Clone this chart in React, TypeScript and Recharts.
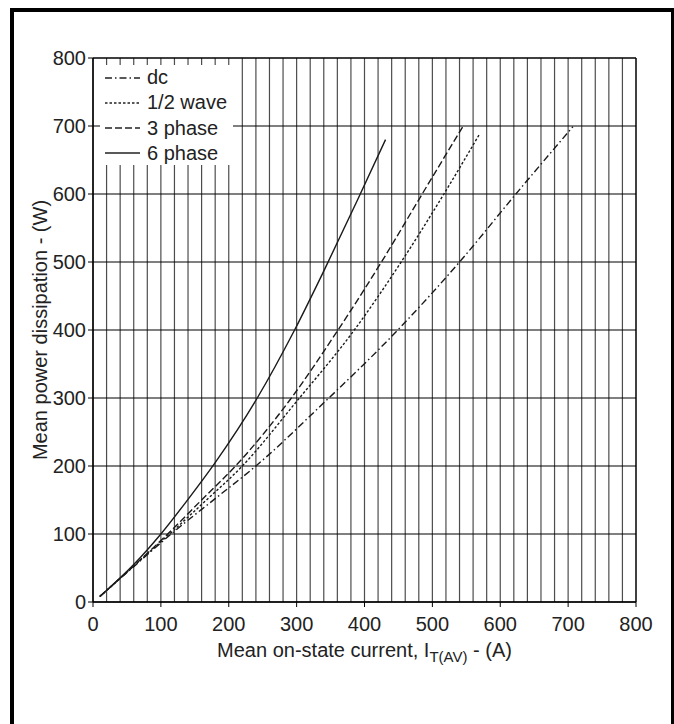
import React from 'react';
import { LineChart, Line, XAxis, YAxis, ReferenceLine, Label } from 'recharts';

// axis ticks
const currentTicks = [0, 100, 200, 300, 400, 500, 600, 700, 800];
const powerTicks = [0, 100, 200, 300, 400, 500, 600, 700, 800];
// fine vertical grid, every 20 A
const currentGrid = Array.from({ length: 41 }, (_, k) => k * 20);

// curves: [current (A), power (W)]
const dcPoints = [
  [10, 8], [60, 52], [120, 104], [180, 152], [240, 200], [337, 290],
  [449, 400], [540, 500], [623, 600], [707, 699],
];
const halfWavePoints = [
  [10, 8], [60, 53], [115, 102], [165, 148], [220, 200], [300, 295],
  [385, 400], [454, 500], [517, 600], [570, 689],
];
const threePhasePoints = [
  [10, 8], [60, 53], [110, 100], [160, 150], [210, 200], [290, 297],
  [361, 400], [425, 500], [485, 600], [546, 701],
];
const sixPhasePoints = [
  [10, 8], [60, 55], [100, 100], [140, 151], [180, 205], [242, 300],
  [297, 400], [344, 495], [390, 592], [431, 680],
];

const toRows = (pts: number[][]) => pts.map(([i, p]) => ({ i, p }));

const series = [
  { name: 'dc', data: toRows(dcPoints), dash: '7 3 1.5 3' },
  { name: '1/2 wave', data: toRows(halfWavePoints), dash: '2.5 2' },
  { name: '3 phase', data: toRows(threePhasePoints), dash: '7 3' },
  { name: '6 phase', data: toRows(sixPhasePoints), dash: undefined },
];

const FONT = '"Liberation Sans", Arial, Helvetica, sans-serif';
const tickStyle = { fill: '#222', fontSize: 20, fontFamily: FONT };

const XTitle = (props: any) => {
  const { viewBox } = props;
  const cx = viewBox.x + viewBox.width / 2;
  return (
    <text x={cx} y={viewBox.y + 55} textAnchor="middle" fill="#222" fontSize={20} fontFamily={FONT}>
      Mean on-state current, I
      <tspan fontSize={15} dy={5}>T(AV)</tspan>
      <tspan dy={-5}> - (A)</tspan>
    </text>
  );
};

const YTitle = (props: any) => {
  const { viewBox } = props;
  const x = viewBox.x - 6;
  const cy = viewBox.y + viewBox.height / 2;
  return (
    <text
      x={x}
      y={cy}
      transform={`rotate(-90, ${x}, ${cy})`}
      textAnchor="middle"
      fill="#222"
      fontSize={20}
      fontFamily={FONT}
    >
      Mean power dissipation - (W)
    </text>
  );
};

const LegendBox = () => (
  <div
    style={{
      position: 'absolute',
      left: 100,
      top: 65,
      width: 133,
      height: 100,
      background: '#fff',
      fontFamily: FONT,
      fontSize: 20,
      color: '#222',
    }}
  >
    {series.map((s, k) => (
      <div
        key={s.name}
        style={{ position: 'absolute', left: 0, top: k * 25.3, height: 25, display: 'flex', alignItems: 'center' }}
      >
        <svg width={44} height={10} style={{ marginRight: 3 }}>
          <line x1={5} y1={5} x2={40} y2={5} stroke="#222" strokeWidth={1.4} strokeDasharray={s.dash} />
        </svg>
        <span>{s.name}</span>
      </div>
    ))}
  </div>
);

export default function App() {
  return (
    <div
      style={{
        position: 'absolute',
        left: 0,
        top: 0,
        width: 674,
        height: 724,
        background: '#fff',
        overflow: 'hidden',
      }}
    >
      <div
        style={{
          position: 'absolute',
          left: 10,
          top: 8,
          width: 657,
          height: 760,
          borderLeft: '4px solid #000',
          borderTop: '4px solid #000',
          borderRight: '4px solid #000',
          boxSizing: 'content-box',
        }}
      />
      <div style={{ position: 'absolute', left: 0, top: 0 }}>
        <LineChart width={674} height={724} margin={{ top: 58, right: 38, left: 53, bottom: 92 }}>
          <XAxis
            type="number"
            dataKey="i"
            domain={[0, 800]}
            ticks={currentTicks}
            interval={0}
            allowDataOverflow
            height={30}
            axisLine={{ stroke: '#000', strokeWidth: 1.5 }}
            tickLine={{ stroke: '#000' }}
            tickSize={5}
            tickMargin={10}
            tick={tickStyle}
          >
            <Label content={<XTitle />} />
          </XAxis>
          <YAxis
            type="number"
            domain={[0, 800]}
            ticks={powerTicks}
            interval={0}
            allowDataOverflow
            width={40}
            axisLine={{ stroke: '#000', strokeWidth: 1.5 }}
            tickLine={{ stroke: '#000' }}
            tickSize={5}
            tickMargin={2}
            tick={tickStyle}
          >
            <Label content={<YTitle />} />
          </YAxis>
          {currentGrid.map((v) => (
            <ReferenceLine key={`gx${v}`} x={v} stroke={v === 800 ? '#000' : '#4d4d4d'} strokeWidth={v === 800 ? 1.5 : 1.2} />
          ))}
          {powerTicks.map((v) => (
            <ReferenceLine key={`gy${v}`} y={v} stroke="#000" strokeWidth={v === 800 ? 1.5 : 1.2} />
          ))}
          {series.map((s) => (
            <Line
              key={s.name}
              name={s.name}
              data={s.data}
              dataKey="p"
              type="monotone"
              stroke="#1a1a1a"
              strokeWidth={1.4}
              strokeDasharray={s.dash}
              dot={false}
              activeDot={false}
              isAnimationActive={false}
            />
          ))}
        </LineChart>
      </div>
      <LegendBox />
    </div>
  );
}
